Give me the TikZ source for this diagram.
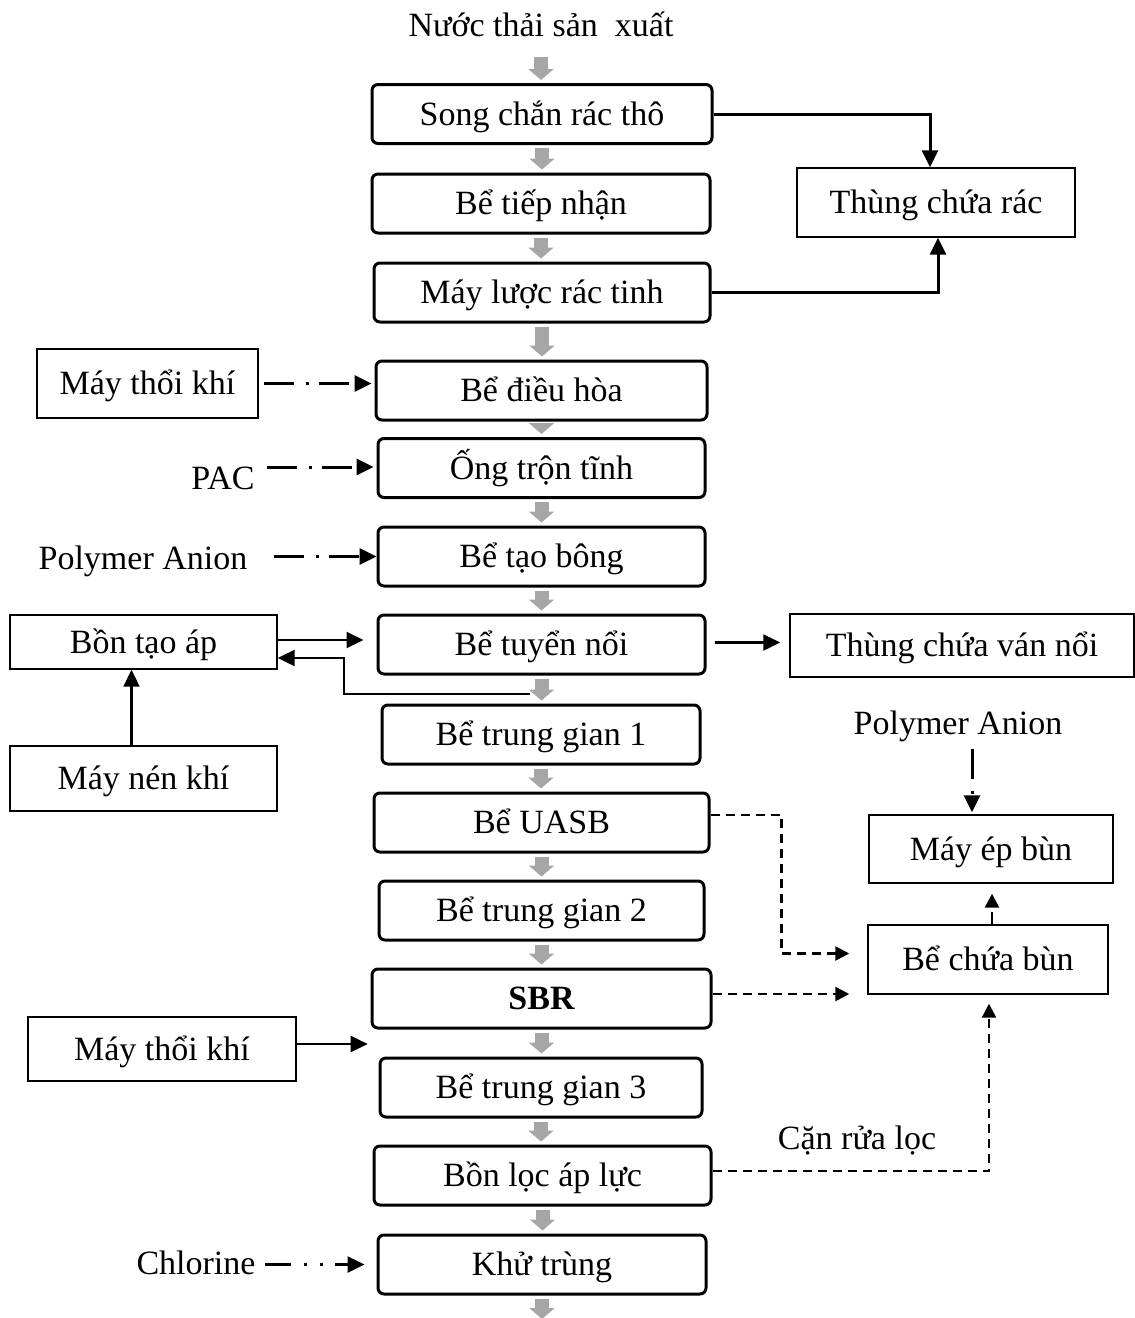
\documentclass[tikz,border=0pt]{standalone}
\usepackage{fontspec}
\setmainfont{Liberation Serif}
\usetikzlibrary{arrows.meta,positioning,calc}
\definecolor{ink}{HTML}{000000}
\definecolor{feedgrey}{HTML}{A6A6A6}
\tikzset{
  unit/.style={draw=ink,rounded corners=3pt,line width=1.5pt,minimum height=29.5pt,inner sep=0pt,text=ink,text height=15pt,text depth=3.7pt},
  aux/.style={draw=ink,line width=.7pt,inner sep=0pt,text=ink,text height=15pt,text depth=3.7pt},
  word/.style={inner sep=1pt,text=ink,text height=15pt,text depth=3.7pt},
  feed/.style={draw=feedgrey,line width=7pt,-{Triangle[length=5.5pt,width=12.5pt]},shorten <=1.5pt,shorten >=1.5pt},
  flow/.style={draw=ink,line width=1.1pt,-{Triangle[length=8.5pt,width=8pt]}},
  waste/.style={flow,line width=1.5pt},
  dose/.style={flow,line width=1.5pt,dash pattern=on 15pt off 6pt on 1.5pt off 5pt},
  chlor/.style={flow,line width=1.3pt,dash pattern=on 13pt off 6.5pt on 1.5pt off 6.5pt on 1.5pt off 6pt},
  sludge/.style={draw=ink,line width=1.2pt,dash pattern=on 4.5pt off 3pt,-{Triangle[length=7pt,width=7pt]}}
}
\begin{document}
\begin{tikzpicture}[x=.5pt,y=-.5pt,font=\fontsize{17}{20}\selectfont]
  \useasboundingbox (0,0) rectangle (1135,1318);
  % main treatment line
  \node[word] (nguon) at (541,25) {Nước thải sản\ \ xuất};
  \node[unit,minimum width=170pt] (song) at (542,114) {Song chắn rác thô};
  \node[unit,minimum width=169pt] (tiep) at (541,203.5) {Bể tiếp nhận};
  \node[unit,minimum width=168pt] (luoc) at (542,292.5) {Máy lược rác tinh};
  \node[unit,minimum width=165.5pt] (dieuhoa) at (541.5,390.5) {Bể điều hòa};
  \node[unit,minimum width=163.5pt] (trontinh) at (541.5,468) {Ống trộn tĩnh};
  \node[unit,minimum width=163.5pt] (taobong) at (541.5,556.5) {Bể tạo bông};
  \node[unit,minimum width=163.5pt] (tuyennoi) at (541.5,644.5) {Bể tuyển nổi};
  \node[unit,minimum width=159pt] (tg1) at (541,734.5) {Bể trung gian 1};
  \node[unit,minimum width=167.5pt] (uasb) at (541.5,822.5) {Bể UASB};
  \node[unit,minimum width=162.5pt] (tg2) at (541.5,910.5) {Bể trung gian 2};
  \node[unit,minimum width=169.5pt,font=\fontsize{17}{20}\selectfont\bfseries] (sbr) at (541.5,998.5) {SBR};
  \node[unit,minimum width=161pt] (tg3) at (541,1087.5) {Bể trung gian 3};
  \node[unit,minimum width=168.5pt] (loc) at (542.5,1175.5) {Bồn lọc áp lực};
  \node[unit,minimum width=164pt] (khutrung) at (542,1264.5) {Khử trùng};
  \coordinate (xa) at ($(khutrung.south)+(0,23.5)$);

  \draw[feed,shorten <=5.5pt] (nguon.south) -- (nguon.south |- song.north);
  \foreach \a/\b in {song/tiep,tiep/luoc,luoc/dieuhoa,dieuhoa/trontinh,trontinh/taobong,taobong/tuyennoi,tuyennoi/tg1,tg1/uasb,uasb/tg2,tg2/sbr,sbr/tg3,tg3/loc,loc/khutrung}
    \draw[feed] (\a.south) -- (\a.south |- \b.north);
  \draw[feed,shorten >=0pt] (khutrung.south) -- (xa);

  % side units
  \node[aux,minimum width=139pt,minimum height=34.5pt] (rac) at (936,202.5) {Thùng chứa rác};
  \node[aux,minimum width=110.5pt,minimum height=34.5pt] (thoikhiA) at (147.5,383.5) {Máy thổi khí};
  \node[word] (pac) at (223,478) {PAC};
  \node[word] (polyA) at (143,558) {Polymer Anion};
  \node[aux,minimum width=133.5pt,minimum height=27pt] (taoap) at (143.5,642) {Bồn tạo áp};
  \node[aux,minimum width=133.5pt,minimum height=32.5pt] (nenkhi) at (143.5,778.5) {Máy nén khí};
  \node[aux,minimum width=172pt,minimum height=31.5pt] (vang) at (962,645.5) {Thùng chứa ván nổi};
  \node[word] (polyB) at (958,723) {Polymer Anion};
  \node[aux,minimum width=122pt,minimum height=34pt] (epbun) at (991,849) {Máy ép bùn};
  \node[aux,minimum width=120pt,minimum height=34.5pt] (chuabun) at (988,959.5) {Bể chứa bùn};
  \node[aux,minimum width=134pt,minimum height=32pt] (thoikhiB) at (162,1049) {Máy thổi khí};
  \node[word] (canrua) at (857,1138) {Cặn rửa lọc};
  \node[word] (chlorine) at (196,1263) {Chlorine};

  \draw[waste] (song.east) -| ($(rac.north)+(-6,0)$);
  \draw[waste] (luoc.east) -| ($(rac.south)+(2,0)$);

  \draw[dose,shorten <=2.5pt,shorten >=1.5pt] (thoikhiA.east) -- (thoikhiA.east -| dieuhoa.west);
  \draw[dose,shorten <=5pt,shorten >=1.5pt] ($(pac.east |- trontinh.west)+(0,-1)$) -- ($(trontinh.west)+(0,-1)$);
  \draw[dose,shorten <=12pt] (polyA.east |- taobong.west) -- (taobong.west);

  \draw[flow,shorten >=6.5pt] ($(taoap.east)+(0,-2)$) -- ($(taoap.east -| tuyennoi.west)+(0,-2)$);
  \coordinate (tachkhi) at (530,694);
  \draw[flow] (tachkhi) -| ($(taoap.east)+(66,16)$) -- ($(taoap.east)+(0,16)$);
  \draw[flow] ($(nenkhi.north)+(-12,0)$) -- ($(taoap.south)+(-12,0)$);
  \draw[flow,shorten <=4pt,shorten >=4.5pt] ($(tuyennoi.east)+(0,-2)$) -- ($(tuyennoi.east -| vang.west)+(0,-2)$);

  \draw[dose,shorten <=2.5pt,shorten >=1pt] ($(polyB.south)+(14,0)$) -- ($(polyB.south |- epbun.north)+(14,0)$);
  \draw[sludge,dash pattern=on 6pt off 20pt,shorten >=5pt] ($(chuabun.north)+(4,0)$) -- ($(chuabun.north |- epbun.south)+(4,0)$);
  \draw[sludge] ($(uasb.east)+(0,-7.5)$) -| ($(chuabun.west)+(-86,-6)$) -- ($(chuabun.west)+(-18,-6)$);
  \draw[sludge] ($(sbr.east)+(0,-4.5)$) -- ($(sbr.east -| chuabun.west)+(-18,-4.5)$);
  \draw[sludge,shorten >=4.5pt] ($(loc.east)+(0,-4.5)$) -| ($(chuabun.south)+(1,0)$);

  \coordinate (khisbr) at ($(thoikhiB.east)+(71,-5)$);
  \draw[flow] ($(thoikhiB.east)+(0,-5)$) -- (khisbr);
  \draw[chlor,shorten <=3.5pt,shorten >=6pt] (chlorine.east |- khutrung.west) -- (khutrung.west);
\end{tikzpicture}
\end{document}
